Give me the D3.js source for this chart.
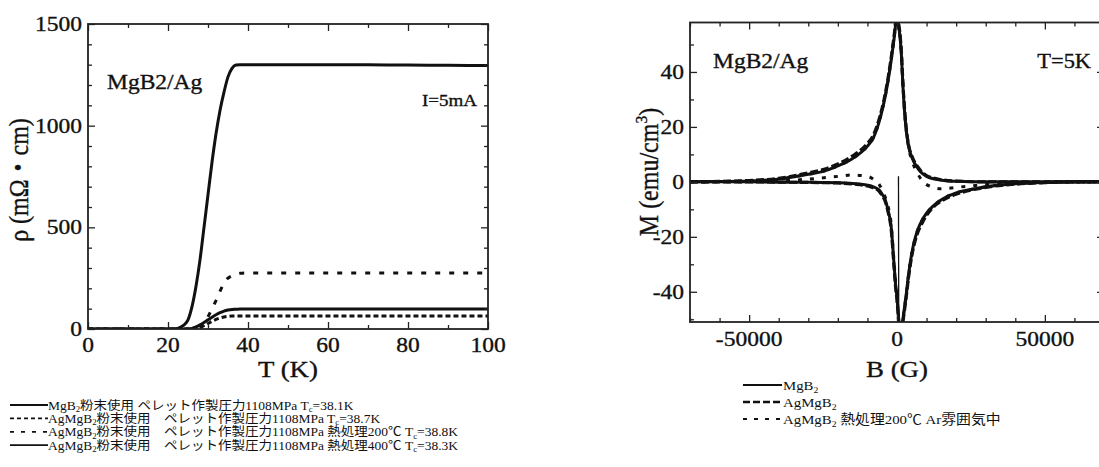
<!DOCTYPE html>
<html>
<head>
<meta charset="utf-8">
<script src="https://cdn.jsdelivr.net/npm/d3@7"></script>
<style>
body { margin: 0; background: #fff; }
text { font-family: "Liberation Serif", "Noto Sans CJK JP", serif; fill: #111; }
</style>
</head>
<body>
<div id="chart"></div>
<script>
'use strict';

// ---- left panel: resistivity vs temperature ----
var rhoT      = [0, 10, 20, 22, 23, 24, 25, 26, 27, 28, 29, 30, 31, 32, 33, 34, 35, 36, 37, 38, 40, 50, 60, 70, 80, 90, 100];
var rhoMgB2   = [0, 0, 0, 0, 8, 20, 45, 110, 210, 340, 500, 660, 820, 960, 1075, 1165, 1240, 1282, 1298, 1300, 1300, 1300, 1300, 1299, 1298, 1297, 1296];
var rhoAg     = [0, 0, 0, 0, 0, 0, 0, 0, 2, 8, 16, 27, 38, 47, 54, 59, 62, 64, 64, 64, 64, 64, 64, 64, 64, 64, 64];
var rhoAg200  = [0, 0, 0, 0, 0, 0, 0, 0, 0, 5, 25, 60, 100, 140, 185, 225, 250, 262, 270, 274, 276, 276, 276, 276, 276, 276, 276];
var rhoAg400  = [0, 0, 0, 0, 0, 0, 0, 3, 10, 20, 32, 45, 58, 70, 80, 88, 93, 96, 97, 98, 98, 98, 98, 98, 98, 98, 98];

var tMajor = [0, 20, 40, 60, 80, 100];
var tMinor = [10, 30, 50, 70, 90];
var rMajor = [0, 500, 1000, 1500];
var rMinor = [100, 200, 300, 400, 600, 700, 800, 900, 1100, 1200, 1300, 1400];

var leftLegend = [
    "MgB_{2}粉末使用 ペレット作製圧力1108MPa T_{c}=38.1K",
    "AgMgB_{2}粉末使用　ペレット作製圧力1108MPa T_{c}=38.7K",
    "AgMgB_{2}粉末使用　ペレット作製圧力1108MPa 熱処理200℃ T_{c}=38.8K",
    "AgMgB_{2}粉末使用　ペレット作製圧力1108MPa 熱処理400℃ T_{c}=38.3K"
];

// ---- right panel: magnetization loops at 5K ----
var bUp  = [-70000, -60000, -50000, -40000, -30000, -25000, -20000, -15000, -10000, -8000, -6000, -4000, -3000, -2000, -1000, 0,
            500, 1000, 1500, 2000, 3000, 4000, 5000, 7000, 10000, 15000, 20000, 30000, 40000, 50000, 60000, 70000];
var mUpMgB2 = [0, 0.1, 0.3, 1, 2.8, 3.8, 5.8, 8.5, 13, 16, 22, 31, 37, 44, 52, 60, 57, 53, 46, 35, 20, 12.5, 9, 5, 2, 0.6, 0.2, 0, 0, 0, 0, 0];
var mUpAg   = [0, 0.2, 0.5, 1.3, 3.3, 4.5, 6.5, 9.5, 14, 17, 23, 32, 38, 45, 53, 61, 58, 54, 47, 36, 21, 13, 9.5, 5.5, 2.3, 0.8, 0.3, 0, 0, 0, 0, 0];
var mUp200  = [0, 0.1, 0.3, 1, 2.8, 3.8, 5.8, 8.5, 13, 16, 22, 31, 37, 44, 52, 60, 57, 53, 46, 35, 20, 12, 8, 3, -1, -2.5, -2, -1, -0.4, -0.1, 0, 0];

var bLow = [-70000, -60000, -50000, -40000, -30000, -20000, -15000, -10000, -8000, -6000, -5000, -4000, -3000, -2000, -1000, -500, 0,
            300, 700, 1000, 1500, 2000, 3000, 4000, 5000, 6000, 7000, 9000, 12000, 15000, 20000, 25000, 30000, 40000, 50000, 60000, 70000];
var mLowMgB2 = [0, 0, 0, -0.1, -0.1, -0.3, -0.6, -1.2, -1.8, -3, -4.5, -6.5, -10.5, -16, -30, -37, -42,
                -46, -52, -57, -54, -50, -42, -33, -26, -21, -17.5, -13, -9, -6.5, -4, -2.8, -1.8, -0.7, -0.2, 0, 0];
var mLowAg   = [0, 0, 0, -0.1, -0.2, -0.4, -0.8, -1.5, -2.2, -3.5, -5, -7, -11, -17, -31, -38, -43,
                -47, -53, -58, -55, -51, -43, -34, -27, -22, -18.5, -14, -9.5, -7, -4.5, -3, -2, -0.8, -0.3, 0, 0];
var mLow200  = [0, 0, 0.1, 0.3, 1, 2, 2.5, 2, 1, -1, -3, -5.5, -9, -15, -29, -36, -42,
                -46, -52, -57, -54, -50, -42, -33, -26, -21, -17.5, -13, -9, -6.5, -4, -2.8, -1.8, -0.7, -0.2, 0, 0];
// initial (virgin) curve of MgB2
var bVirgin = [500, 600];
var mVirgin = [2, -60];

var bMajor = [-50000, 0, 50000];
var bMinor = [-70000, -60000, -40000, -30000, -20000, -10000, 10000, 20000, 30000, 40000, 60000, 70000];
var mMajor = [-40, -20, 0, 20, 40];
var mMinor = [-50, -30, -10, 10, 30, 50];

var rightLegend = [
    "MgB_{2}",
    "AgMgB_{2}",
    "AgMgB_{2} 熱処理200℃ Ar雰囲気中"
];

var SX = 1.12;   // the scan is a little wider than tall
var ink = "#111";
var FONT = '"Liberation Serif", "Noto Sans CJK JP", serif';

var svg = d3.select("#chart").append("svg")
    .attr("width", 1099)
    .attr("height", 467);

// text with _{sub} and ^{sup} parts, stretched horizontally
function stext(g, x, y, str, size, anchor, rotate, sx) {
    var t = g.append("text")
        .attr("font-family", FONT)
        .attr("font-size", size)
        .attr("text-anchor", anchor || "start")
        .attr("transform", "translate(" + x + "," + y + ") scale(" + (sx || SX) + ",1)" + (rotate ? " rotate(-90)" : ""));
    if (size >= 17) t.attr("stroke", ink).attr("stroke-width", 0.35);   // scan makes big text heavy
    var parts = str.split(/(_\{[^}]*\}|\^\{[^}]*\})/).filter(p => p.length);
    var shift = 0;
    parts.forEach(function(p) {
        var s = t.append("tspan"), d = 0;
        if (p[0] === "_" && p[1] === "{") { d = 0.2 * size; p = p.slice(2, -1); s.attr("font-size", size * 0.65); }
        else if (p[0] === "^" && p[1] === "{") { d = -0.42 * size; p = p.slice(2, -1); s.attr("font-size", size * 0.65); }
        s.attr("dy", d - shift).text(p);
        shift = d;
    });
    return t;
}

function frame(x, y, xMajor, xMinor, yMajor, yMinor) {
    var g = svg.append("g");
    var xr = x.range(), yr = y.range();
    var axes = [
        [d3.axisBottom, x, "translate(0," + yr[0] + ")"],
        [d3.axisTop, x, "translate(0," + yr[1] + ")"],
        [d3.axisLeft, y, "translate(" + xr[0] + ",0)"],
        [d3.axisRight, y, "translate(" + xr[1] + ",0)"]
    ];
    axes.forEach(function(a) {
        var isX = a[1] === x;
        g.append("g").attr("transform", a[2])
            .call(a[0](a[1]).tickValues(isX ? xMajor : yMajor).tickSize(-7).tickFormat(""));
        g.append("g").attr("transform", a[2])
            .call(a[0](a[1]).tickValues(isX ? xMinor : yMinor).tickSize(-4).tickFormat(""));
    });
    g.selectAll(".domain").remove();
    g.selectAll(".tick line").attr("stroke", "#222").attr("stroke-width", 1.3);
    g.append("rect")
        .attr("x", xr[0]).attr("y", yr[1])
        .attr("width", xr[1] - xr[0]).attr("height", yr[0] - yr[1])
        .attr("fill", "none").attr("stroke", "#222").attr("stroke-width", 1.8);
    return g;
}

function clip(id, x, y) {
    svg.append("clipPath").attr("id", id).append("rect")
        .attr("x", x.range()[0]).attr("y", y.range()[1])
        .attr("width", x.range()[1] - x.range()[0])
        .attr("height", y.range()[0] - y.range()[1]);
}

// ================= left panel =================
var xT = d3.scaleLinear().domain([0, 100]).range([88, 488]);
var yR = d3.scaleLinear().domain([0, 1500]).range([329, 24]);
clip("clipL", xT, yR);

var lineL = d3.line()
    .x((d, i) => xT(rhoT[i]))
    .y(d => yR(d))
    .curve(d3.curveMonotoneX);

var leftSeries = [
    { vals: rhoMgB2, dash: null, w: 3 },
    { vals: rhoAg, dash: "5,3", w: 3 },
    { vals: rhoAg200, dash: "5,9", w: 3 },
    { vals: rhoAg400, dash: null, w: 3 }
];
var gl = svg.append("g").attr("clip-path", "url(#clipL)");
leftSeries.forEach(function(s) {
    gl.append("path")
        .attr("d", lineL(s.vals))
        .attr("fill", "none")
        .attr("stroke", ink)
        .attr("stroke-width", s.w)
        .attr("stroke-dasharray", s.dash);
});

frame(xT, yR, tMajor, tMinor, rMajor, rMinor);

tMajor.forEach(v => stext(svg, xT(v), 352, String(v), 21, "middle"));
rMajor.forEach(v => stext(svg, 82, yR(v) + 7, String(v), 21, "end"));
stext(svg, xT(50), 377, "T (K)", 24, "middle");
stext(svg, 28, 180, "ρ (mΩ・cm)", 24, "middle", true);
stext(svg, 107, 89, "MgB2/Ag", 21, "start");
stext(svg, 477, 106, "I=5mA", 17, "end");

// left legend
var legDash = [null, "4,3", "4,7", null];
leftLegend.forEach(function(str, i) {
    var y = 405 + i * 13.4;
    svg.append("line")
        .attr("x1", 10).attr("x2", 48).attr("y1", y).attr("y2", y)
        .attr("stroke", ink).attr("stroke-width", 1.8)
        .attr("stroke-dasharray", legDash[i]);
    stext(svg, 48, y + 4.5, str, 12.5, "start", false, 1.08);
});

// ================= right panel =================
var xB = d3.scaleLinear().domain([-70000, 70000]).range([690, 1104]);
var yM = d3.scaleLinear().domain([-51, 58]).range([322, 22.5]);
clip("clipR", xB, yM);

var lineR = d3.line()
    .x(d => xB(d[0]))
    .y(d => yM(d[1]))
    .curve(d3.curveMonotoneX);

function pairs(bs, ms) { return bs.map((b, i) => [b, ms[i]]); }

var rightSeries = [
    { up: mUpMgB2, low: mLowMgB2, dash: null, w: 3 },
    { up: mUpAg, low: mLowAg, dash: "8,3", w: 3.2 },
    { up: mUp200, low: mLow200, dash: "4,8", w: 3 }
];
var gr = svg.append("g").attr("clip-path", "url(#clipR)");
rightSeries.forEach(function(s) {
    [pairs(bUp, s.up), pairs(bLow, s.low)].forEach(function(pts) {
        gr.append("path")
            .attr("d", lineR(pts))
            .attr("fill", "none")
            .attr("stroke", ink)
            .attr("stroke-width", s.w)
            .attr("stroke-dasharray", s.dash);
    });
});
gr.append("path")
    .attr("d", d3.line().x(d => xB(d[0])).y(d => yM(d[1]))(pairs(bVirgin, mVirgin)))
    .attr("fill", "none")
    .attr("stroke", ink)
    .attr("stroke-width", 1.3);

frame(xB, yM, bMajor, bMinor, mMajor, mMinor);

bMajor.forEach(v => stext(svg, xB(v), 346, String(v), 21, "middle"));
mMajor.forEach(v => stext(svg, 684, yM(v) + 7, String(v), 21, "end"));
stext(svg, xB(0), 377, "B (G)", 24, "middle");
stext(svg, 658, 172, "M (emu/cm^{3})", 24, "middle", true);
stext(svg, 713, 68, "MgB2/Ag", 21, "start");
stext(svg, 1091, 68, "T=5K", 20, "end");

// right legend
var legDashR = [null, "7,3", "4,7"];
rightLegend.forEach(function(str, i) {
    var y = 385 + i * 17;
    svg.append("line")
        .attr("x1", 743).attr("x2", 782).attr("y1", y).attr("y2", y)
        .attr("stroke", ink).attr("stroke-width", i === 1 ? 2.6 : 1.8)
        .attr("stroke-dasharray", legDashR[i]);
    stext(svg, 783, y + 5, str, 13.5, "start", false, 1.1);
});
</script>
</body>
</html>
